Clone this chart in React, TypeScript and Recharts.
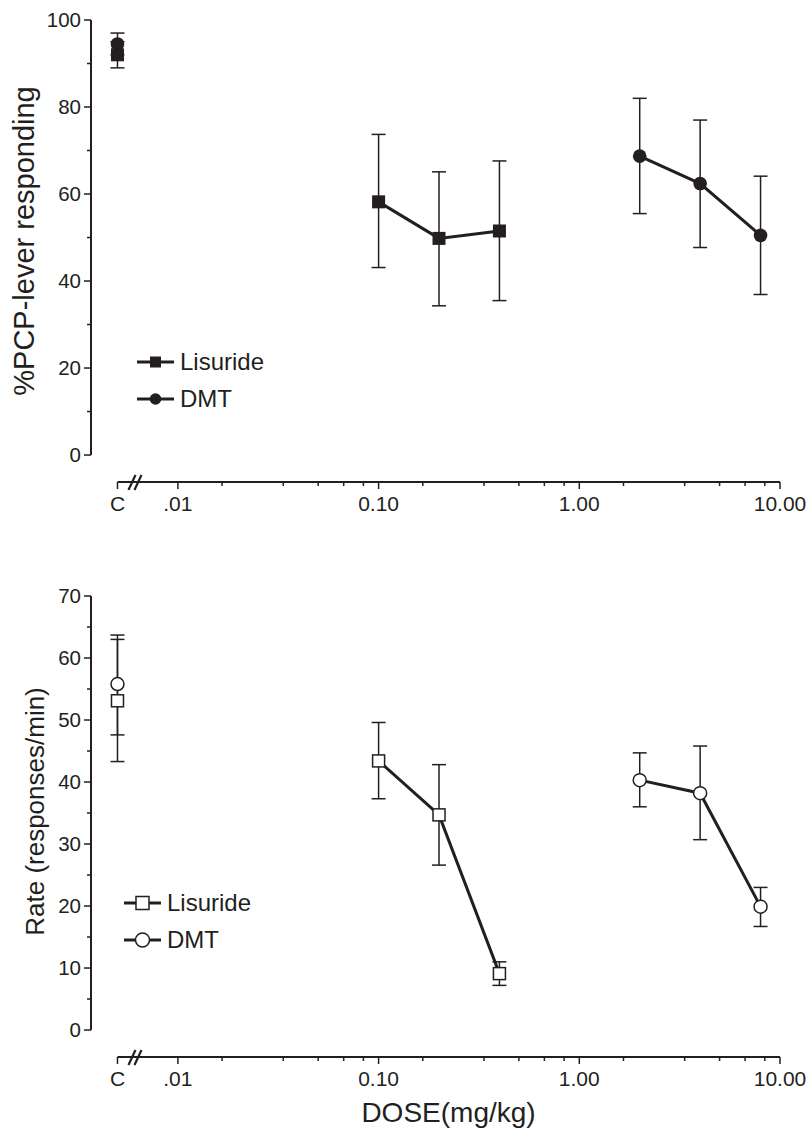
import React from 'react';
import { ComposedChart, Scatter, XAxis, YAxis, ErrorBar, ReferenceLine, Legend } from 'recharts';

const INK = '#231f20';
const FONT = '"Liberation Sans", Arial, Helvetica, sans-serif';

// control (C) sits left of the axis break, drawn at 0.005 on the log scale
const C_DOSE = 0.005;
const X_MIN = 0.00369;
const X_MAX = 10;

const lisurideDoses = [0.1, 0.2, 0.4];
const dmtDoses = [2, 4, 8];

// x axis labels and the odd minor tick spacing of the original axis
const xMajorTicks = [C_DOSE, 0.01, 0.1, 1, 10];
const xMajorLabels = ['C', '.01', '0.10', '1.00', '10.00'];
const xMinorSteps = [1.66, 3.35, 5, 6.7, 8.4];

// top panel: %PCP-lever responding, [Lisuride, DMT] at control
const pcpControl = [92, 94.5];
const pcpControlLow = [89, 92];
const pcpControlHigh = [95, 97];
const pcpLisuride = [58.2, 49.8, 51.5];
const pcpLisurideLow = [43.1, 34.3, 35.5];
const pcpLisurideHigh = [73.7, 65.1, 67.6];
const pcpDmt = [68.7, 62.4, 50.5];
const pcpDmtLow = [55.5, 47.7, 36.9];
const pcpDmtHigh = [82.0, 77.0, 64.1];

// bottom panel: rate (responses/min)
const rateControl = [53.1, 55.8];
const rateControlLow = [47.6, 43.3];
const rateControlHigh = [63.0, 63.7];
const rateLisuride = [43.4, 34.7, 9.1];
const rateLisurideLow = [37.3, 26.6, 7.2];
const rateLisurideHigh = [49.6, 42.8, 11.0];
const rateDmt = [40.3, 38.2, 19.9];
const rateDmtLow = [36.0, 30.7, 16.7];
const rateDmtHigh = [44.7, 45.8, 23.0];

const legendNames = ['Lisuride', 'DMT'];

const toPoints = (doses: number[], mean: number[], low: number[], high: number[]) =>
  doses.map((d, i) => ({ dose: d, value: mean[i], err: [mean[i] - low[i], high[i] - mean[i]] }));

const xTicks: number[] = [C_DOSE];
[0.01, 0.1, 1].forEach((decade) => {
  xTicks.push(decade);
  xMinorSteps.forEach((s) => xTicks.push(+(decade * s).toPrecision(4)));
});
xTicks.push(10);

const FilledSquare = (p: any) => <rect x={p.cx - 6.5} y={p.cy - 6.5} width={13} height={13} fill={INK} />;
const FilledCircle = (p: any) => <circle cx={p.cx} cy={p.cy} r={6.8} fill={INK} />;
const OpenSquare = (p: any) => (
  <rect x={p.cx - 6} y={p.cy - 6} width={12} height={12} fill="#fff" stroke={INK} strokeWidth={1.5} />
);
const OpenCircle = (p: any) => <circle cx={p.cx} cy={p.cy} r={6.5} fill="#fff" stroke={INK} strokeWidth={1.5} />;

const XTick = (props: any) => {
  const { x, y, payload } = props;
  const idx = xMajorTicks.findIndex((t) => Math.abs(t - payload.value) < 1e-9);
  const major = idx >= 0;
  return (
    <g>
      <line x1={x} x2={x} y1={y} y2={y + (major ? 7 : 4)} stroke={INK} strokeWidth={1.5} />
      {major && (
        <text x={x} y={y + 22} dy="0.35em" textAnchor="middle" fontSize={21} fill={INK} fontFamily={FONT}>
          {xMajorLabels[idx]}
        </text>
      )}
      {payload.value === C_DOSE && (
        <g stroke={INK} strokeWidth={2.2}>
          <line x1={x + 11} y1={y + 8} x2={x + 18} y2={y - 7} />
          <line x1={x + 17} y1={y + 8} x2={x + 24} y2={y - 7} />
        </g>
      )}
    </g>
  );
};

const makeYTick = (major: number) => (props: any) => {
  const { x, y, payload } = props;
  const isMajor = payload.value % major === 0;
  return (
    <g>
      <line x1={x - (isMajor ? 7 : 4)} x2={x} y1={y} y2={y} stroke={INK} strokeWidth={1.5} />
      {isMajor && (
        <text x={x - 10} y={y} dy="0.35em" textAnchor="end" fontSize={20.5} fill={INK} fontFamily={FONT}>
          {payload.value}
        </text>
      )}
    </g>
  );
};

const LegendBox = ({ filled }: { filled: boolean }) => (
  <svg width={190} height={74} style={{ display: 'block', overflow: 'visible' }}>
    {legendNames.map((name, i) => {
      const cy = 17 + i * 37;
      return (
        <g key={name}>
          <line x1={0} x2={37} y1={cy} y2={cy} stroke={INK} strokeWidth={3} />
          {i === 0 ? (
            filled ? (
              <rect x={13} y={cy - 5.5} width={11} height={11} fill={INK} />
            ) : (
              <rect x={12} y={cy - 6.5} width={13} height={13} fill="#fff" stroke={INK} strokeWidth={1.5} />
            )
          ) : (
            <circle cx={18.5} cy={cy} r={filled ? 5.8 : 7} fill={filled ? INK : '#fff'} stroke={INK} strokeWidth={filled ? 0 : 1.5} />
          )}
          <text x={43} y={cy} dy="0.35em" fontSize={24} fill={INK} fontFamily={FONT}>
            {name}
          </text>
        </g>
      );
    })}
  </svg>
);

interface PanelProps {
  height: number;
  top: number;
  bottom: number;
  xAxisHeight: number;
  yMin: number;
  yMax: number;
  yStep: number;
  yMajor: number;
  yTitle: string;
  titleSize: number;
  titleX: number;
  titleDy: number;
  filled: boolean;
  control: number[];
  controlLow: number[];
  controlHigh: number[];
  lis: number[];
  lisLow: number[];
  lisHigh: number[];
  dmt: number[];
  dmtLow: number[];
  dmtHigh: number[];
  legendLeft: number;
  legendTop: number;
  xTitle?: string;
}

const Panel = (p: PanelProps) => {
  const yTicks: number[] = [];
  for (let v = 0; v <= p.yMax + 1e-9; v += p.yStep) yTicks.push(v);
  const lisC = toPoints([C_DOSE], [p.control[0]], [p.controlLow[0]], [p.controlHigh[0]]);
  const dmtC = toPoints([C_DOSE], [p.control[1]], [p.controlLow[1]], [p.controlHigh[1]]);
  const lis = toPoints(lisurideDoses, p.lis, p.lisLow, p.lisHigh);
  const dmt = toPoints(dmtDoses, p.dmt, p.dmtLow, p.dmtHigh);
  const sq = p.filled ? FilledSquare : OpenSquare;
  const ci = p.filled ? FilledCircle : OpenCircle;
  const bar = <ErrorBar dataKey="err" direction="y" width={7} strokeWidth={1.5} stroke={INK} />;
  const line = { stroke: INK, strokeWidth: 3 };

  return (
    <ComposedChart
      width={808}
      height={p.height}
      margin={{ top: p.top, right: 28, bottom: p.bottom, left: 0 }}
      style={{ fontFamily: FONT }}
    >
      <XAxis
        type="number"
        dataKey="dose"
        scale="log"
        domain={[X_MIN, X_MAX]}
        allowDataOverflow
        ticks={xTicks}
        interval={0}
        axisLine={false}
        tickLine={false}
        tickSize={0}
        tickMargin={0}
        tick={<XTick />}
        height={p.xAxisHeight}
        label={
          p.xTitle
            ? {
                content: (lp: any) => (
                  <text
                    x={lp.viewBox.x + lp.viewBox.width / 2 + 13}
                    y={lp.viewBox.y + 55}
                    dy="0.35em"
                    textAnchor="middle"
                    fontSize={28}
                    fill={INK}
                    fontFamily={FONT}
                  >
                    {p.xTitle}
                  </text>
                ),
              }
            : undefined
        }
      />
      <YAxis
        type="number"
        dataKey="value"
        domain={[p.yMin, p.yMax]}
        allowDataOverflow
        ticks={yTicks}
        interval={0}
        width={91}
        axisLine={false}
        tickLine={false}
        tickSize={0}
        tickMargin={0}
        tick={makeYTick(p.yMajor)}
        label={{
          content: (lp: any) => {
            const cx = p.titleX;
            const cy = lp.viewBox.y + lp.viewBox.height / 2 + p.titleDy;
            return (
              <text
                x={cx}
                y={cy}
                dy="0.35em"
                textAnchor="middle"
                transform={`rotate(-90 ${cx} ${cy})`}
                fontSize={p.titleSize}
                fill={INK}
                fontFamily={FONT}
              >
                {p.yTitle}
              </text>
            );
          },
        }}
      />
      <ReferenceLine
        segment={[{ x: X_MIN, y: 0 }, { x: X_MIN, y: p.yMax }]}
        stroke={INK}
        strokeWidth={2}
        ifOverflow="visible"
      />
      <ReferenceLine
        segment={[{ x: C_DOSE, y: p.yMin }, { x: X_MAX, y: p.yMin }]}
        stroke={INK}
        strokeWidth={2}
        ifOverflow="visible"
      />
      <Scatter name="Lisuride C" data={lisC} shape={sq} isAnimationActive={false}>
        {bar}
      </Scatter>
      <Scatter name="DMT C" data={dmtC} shape={ci} isAnimationActive={false}>
        {bar}
      </Scatter>
      <Scatter name="Lisuride" data={lis} shape={sq} line={line} lineType="joint" isAnimationActive={false}>
        {bar}
      </Scatter>
      <Scatter name="DMT" data={dmt} shape={ci} line={line} lineType="joint" isAnimationActive={false}>
        {bar}
      </Scatter>
      <Legend
        layout="vertical"
        align="center"
        verticalAlign="middle"
        wrapperStyle={{ position: 'absolute', left: p.legendLeft, top: p.legendTop, width: 190, height: 74 }}
        content={() => <LegendBox filled={p.filled} />}
      />
    </ComposedChart>
  );
};

export default function App() {
  return (
    <div style={{ position: 'absolute', left: 0, top: 0, width: 808, height: 1129, background: '#fff' }}>
      <Panel
        height={540}
        top={20}
        bottom={18}
        xAxisHeight={40}
        yMin={-6.2}
        yMax={100}
        yStep={10}
        yMajor={20}
        yTitle="%PCP-lever responding"
        titleSize={29}
        titleX={24}
        titleDy={-10}
        filled
        control={pcpControl}
        controlLow={pcpControlLow}
        controlHigh={pcpControlHigh}
        lis={pcpLisuride}
        lisLow={pcpLisurideLow}
        lisHigh={pcpLisurideHigh}
        dmt={pcpDmt}
        dmtLow={pcpDmtLow}
        dmtHigh={pcpDmtHigh}
        legendLeft={137}
        legendTop={345}
      />
      <Panel
        height={589}
        top={56}
        bottom={10}
        xAxisHeight={62}
        yMin={-4.35}
        yMax={70}
        yStep={5}
        yMajor={10}
        yTitle="Rate (responses/min)"
        titleSize={26}
        titleX={35}
        titleDy={-15}
        filled={false}
        control={rateControl}
        controlLow={rateControlLow}
        controlHigh={rateControlHigh}
        lis={rateLisuride}
        lisLow={rateLisurideLow}
        lisHigh={rateLisurideHigh}
        dmt={rateDmt}
        dmtLow={rateDmtLow}
        dmtHigh={rateDmtHigh}
        legendLeft={124}
        legendTop={346}
        xTitle="DOSE(mg/kg)"
      />
    </div>
  );
}
